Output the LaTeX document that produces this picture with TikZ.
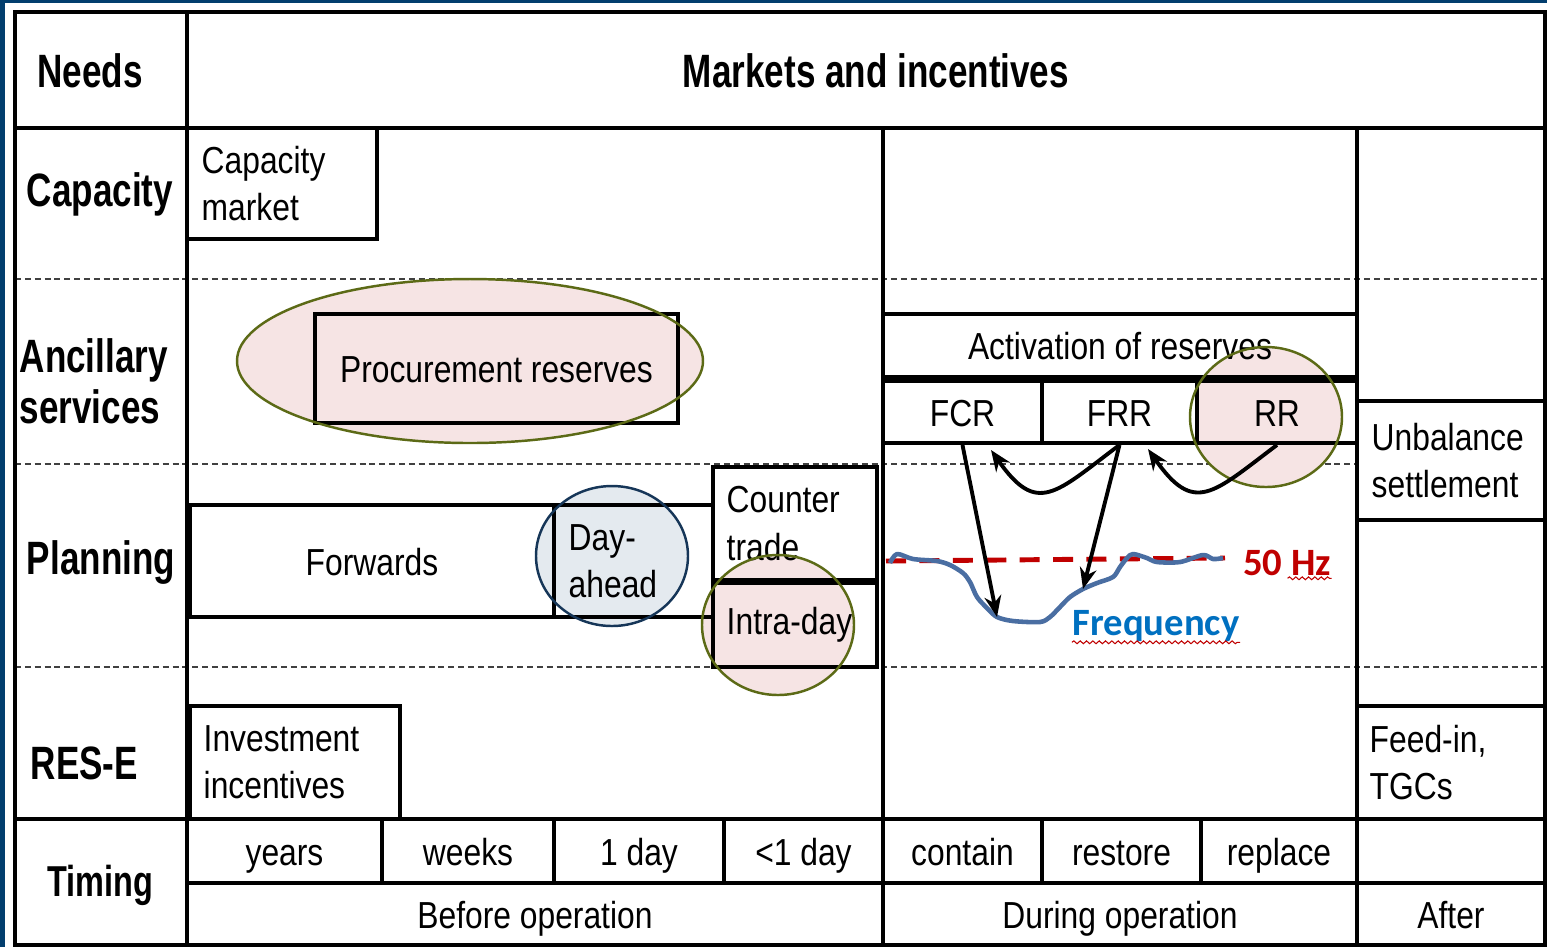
\documentclass[tikz,border=0pt]{standalone}
\usepackage{fontspec}
\setmainfont[FakeStretch=0.845]{Liberation Sans}
\newfontfamily\headfont[FakeStretch=0.75]{Liberation Sans}
\newfontfamily\calfont{Carlito}
\usetikzlibrary{arrows.meta,decorations.pathmorphing}

\definecolor{frameblue}{RGB}{2,62,110}
\definecolor{ovalpink}{RGB}{246,228,228}
\definecolor{ovalgrey}{RGB}{228,234,239}
\definecolor{ovalolive}{RGB}{92,106,22}
\definecolor{ovalnavy}{RGB}{22,54,88}
\definecolor{traceblue}{RGB}{74,110,162}
\definecolor{hzred}{RGB}{192,0,0}
\definecolor{freqblue}{RGB}{0,112,192}

\tikzset{
  tabline/.style={line width=1.1pt, line cap=rect},
  sepline/.style={line width=0.45pt, black!75, dash pattern=on 1.7pt off 1.1pt},
  cell/.style={draw, line width=1.1pt, inner sep=0pt, text height=9.6pt, text depth=1.6pt,
    font=\fontsize{10.7}{13.4}\selectfont},
  txt/.style={inner sep=0pt, align=left, font=\fontsize{10.7}{13.4}\selectfont},
  head/.style={inner sep=0pt, font=\headfont\bfseries\fontsize{13.3}{14.6}\selectfont},
  callabel/.style={inner sep=0pt, font=\calfont\bfseries\fontsize{11}{13}\selectfont},
  olivering/.style={draw=ovalolive, line width=0.7pt},
  navyring/.style={draw=ovalnavy, line width=0.7pt},
  flow/.style={line width=1.1pt, -{Stealth[length=6pt,width=4.8pt]}},
  hzline/.style={hzred, line width=1.4pt, dash pattern=on 5.7pt off 3.8pt},
  trace/.style={traceblue, line width=1.3pt, line join=round},
  squiggle/.style={hzred, line width=0.3pt, decorate, decoration={snake, amplitude=0.4pt, segment length=1.8pt}},
}

\begin{document}
\begin{tikzpicture}[x=0.01cm, y=-0.01cm]
    \useasboundingbox (0,0) rectangle (1547,947);

    % Frame
    \fill[frameblue] (0,0) rectangle (1547,947);
    \fill[white] (5,3) rectangle (1547,947);

    \coordinate (TL) at (15,12);
    \coordinate (BR) at (1545,945);

    % Dashed row separators
    \foreach \y in {279,464,667}
        \draw[sepline] (15,\y) -- (1545,\y);

    % Ovals (fill only, rings go on top later)
    \coordinate (procO) at (470,361);
    \coordinate (dayO) at (612,556);
    \coordinate (intraO) at (778,625);
    \coordinate (rrO) at (1266,417);
    \fill[ovalpink] (procO) ellipse [x radius=233, y radius=82];
    \fill[ovalgrey] (dayO) ellipse [x radius=76, y radius=70];
    \fill[ovalpink] (intraO) ellipse [x radius=76, y radius=70];
    \fill[ovalpink] (rrO) ellipse [x radius=76, y radius=70];

    % Lines
    \draw[tabline] (TL) rectangle (BR);
    \draw[tabline] (187,12) -- (187,945);
    \draw[tabline] (15,128) -- (1545,128);
    \draw[tabline] (883,128) -- (883,945);
    \draw[tabline] (1357,128) -- (1357,945);
    \draw[tabline] (15,819) -- (1545,819);

    % Headings
    \node[head] (needs) at (90,71) {Needs};
    \node[head] (markets) at (876,71) {Markets and incentives};
    \node[head] (capacity) at (100,194) {Capacity};
    \node[head, anchor=west, align=left] (ancillary) at (19,381) {Ancillary\\services};
    \node[head] (planning) at (101,562) {Planning};
    \node[head, anchor=west] (rese) at (30,763) {RES-E};
    \node[head, font=\headfont\bfseries\fontsize{12.3}{14}\selectfont] (timing) at (100,885) {Timing};

    % Boxes
    \node[cell, fill=white, minimum width=1.90cm, minimum height=1.11cm] (capbox) at (282,183.5) {};
    \node[txt, anchor=west] (captxt) at ([xshift=0.16cm]capbox.west) {Capacity\\market};
    \node[cell, minimum width=3.63cm, minimum height=1.09cm] (procure) at (496.5,368.5) {Procurement reserves};
    \node[cell, minimum width=4.74cm, minimum height=0.63cm] (activation) at (1120,345.5) {Activation of reserves};
    \node[cell, fill=white, minimum width=1.59cm, minimum height=0.62cm] (fcr) at (962.5,412) {FCR};
    \node[cell, fill=white, minimum width=1.55cm, minimum height=0.62cm] (frr) at (1119.5,412) {FRR};
    \node[cell, minimum width=1.60cm, minimum height=0.62cm] (rr) at (1277,412) {RR};
    \node[cell, fill=white, minimum width=1.88cm, minimum height=1.19cm] (unbox) at (1451,460.5) {};
    \node[txt, anchor=west] (untxt) at ([xshift=0.16cm]unbox.west) {Unbalance\\settlement};
    \node[cell, minimum width=3.64cm, minimum height=1.12cm] (forwards) at (372,561) {Forwards};
    \node[cell, minimum width=1.59cm, minimum height=1.12cm] (daybox) at (633.5,561) {};
    \node[txt, anchor=west] (daytxt) at ([xshift=0.16cm]daybox.west) {Day-\\ahead};
    \node[cell, minimum width=1.64cm, minimum height=1.13cm] (counterbox) at (795,523.5) {};
    \node[txt, anchor=west] (countertxt) at ([xshift=0.15cm]counterbox.west) {Counter\\trade};
    \node[cell, minimum width=1.64cm, minimum height=0.84cm] (intrabox) at (795,625) {};
    \node[txt, anchor=west] (intratxt) at ([xshift=0.15cm]intrabox.west) {Intra-day};
    \node[cell, fill=white, minimum width=2.10cm, minimum height=1.13cm] (invbox) at (295,762.5) {};
    \node[txt, anchor=west] (invtxt) at ([xshift=0.15cm]invbox.west) {Investment\\incentives};
    \node[cell, fill=white, minimum width=1.88cm, minimum height=1.13cm] (feedbox) at (1451,762.5) {};
    \node[txt, anchor=west] (feedtxt) at ([xshift=0.14cm]feedbox.west) {Feed-in,\\TGCs};

    % Timing row
    \node[cell, minimum width=1.95cm, minimum height=0.64cm] (years) at (284.5,851) {years};
    \node[cell, minimum width=1.72cm, minimum height=0.64cm] (weeks) at (468,851) {weeks};
    \node[cell, minimum width=1.70cm, minimum height=0.64cm] (oneday) at (639,851) {1 day};
    \node[cell, minimum width=1.59cm, minimum height=0.64cm] (subday) at (803.5,851) {<1 day};
    \node[cell, minimum width=1.59cm, minimum height=0.64cm] (contain) at (962.5,851) {contain};
    \node[cell, minimum width=1.59cm, minimum height=0.64cm] (restore) at (1121.5,851) {restore};
    \node[cell, minimum width=1.56cm, minimum height=0.64cm] (replace) at (1279,851) {replace};
    \node[cell, minimum width=1.88cm, minimum height=0.64cm] (blank) at (1451,851) {};
    \node[cell, minimum width=6.96cm, minimum height=0.62cm] (before) at (535,914) {Before operation};
    \node[cell, minimum width=4.74cm, minimum height=0.62cm] (during) at (1120,914) {During operation};
    \node[cell, minimum width=1.88cm, minimum height=0.62cm] (after) at (1451,914) {After};

    % Rings
    \draw[olivering] (procO) ellipse [x radius=233, y radius=82];
    \draw[navyring] (dayO) ellipse [x radius=76, y radius=70];
    \draw[olivering] (intraO) ellipse [x radius=76, y radius=70];
    \draw[olivering] (rrO) ellipse [x radius=76, y radius=70];

    % Frequency trace
    \coordinate (hzA) at (886,561);
    \coordinate (hzB) at (1225,558);
    \draw[hzline] (hzA) -- (hzB);
    \node[callabel, text=hzred] (hz) at (1287,563) {50 Hz};
    \draw[squiggle] ([xshift=-0.44cm,yshift=-0.5pt]hz.south east) -- ([yshift=-0.5pt]hz.south east);

    \coordinate (fcrhit) at (997,617);
    \coordinate (frrhit) at (1083,589);
    \draw[trace] plot[smooth, tension=0.5] coordinates {
        (890,563) (897,554) (913,559) (937,561) (950,565) (963,573) (970,582)
        (977,597) (987,608) (fcrhit) (1013,621) (1040,622) (1050,617) (1060,607)
        (1070,597) (frrhit) (1097,583) (1113,577) (1120,567) (1127,558) (1133,554)
        (1147,558) (1157,562) (1180,562) (1203,555) (1213,559) (1223,558)};
    \node[callabel, text=freqblue] (freq) at (1156,626) {Frequency};
    \draw[squiggle] (freq.south west) -- (freq.south east);

    % Reserve arrows
    \coordinate (fcrback) at (991,450);
    \coordinate (frrback) at (1148,449);
    \draw[flow] (fcr.south) -- (fcrhit);
    \draw[flow] (frr.south) -- (frrhit);
    \draw[flow] (frr.south) to[out=-143, in=-55, looseness=1.6] (fcrback);
    \draw[flow] (rr.south) to[out=-143, in=-55, looseness=1.6] (frrback);

\end{tikzpicture}
\end{document}
